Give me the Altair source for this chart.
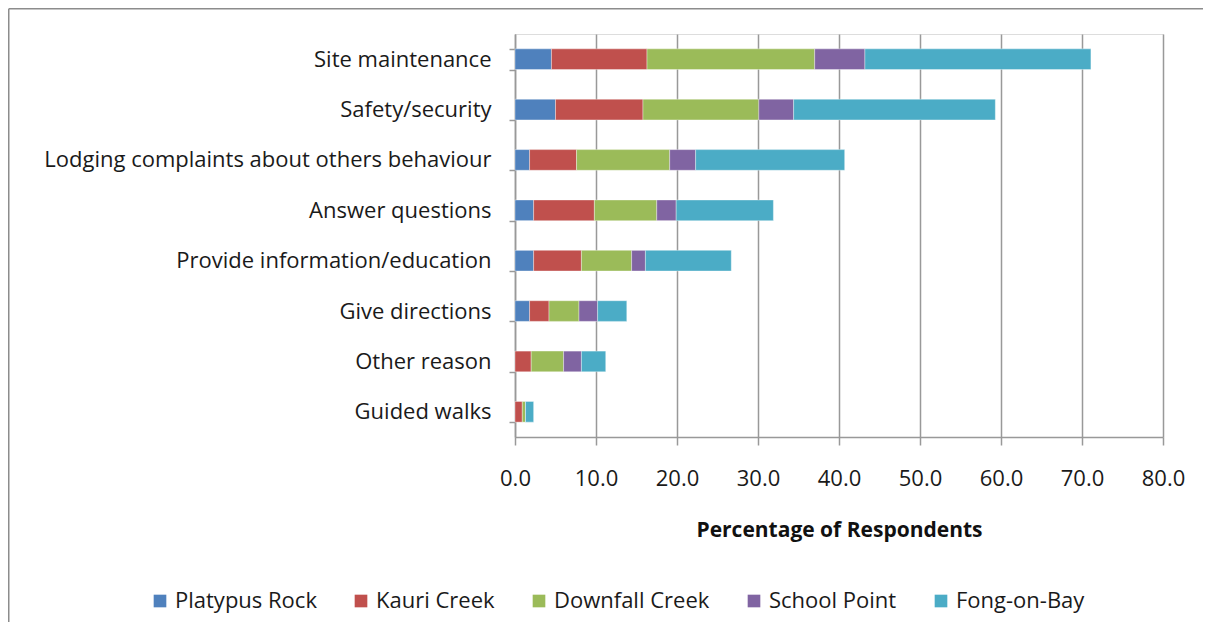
import altair as alt
import pandas as pd

categories = ["Site maintenance", "Safety/security", "Lodging complaints about others behaviour",
              "Answer questions", "Provide information/education", "Give directions",
              "Other reason", "Guided walks"]
sites = ["Platypus Rock", "Kauri Creek", "Downfall Creek", "School Point", "Fong-on-Bay"]
colors = ["#4F81BD", "#C0504D", "#9BBB59", "#8064A2", "#4BACC6"]

platypus_rock = [4.5, 5.0, 1.8, 2.3, 2.3, 1.8, 0.0, 0.0]
kauri_creek = [11.8, 10.8, 5.8, 7.5, 5.9, 2.4, 2.0, 0.9]
downfall_creek = [20.7, 14.3, 11.5, 7.7, 6.2, 3.7, 4.0, 0.4]
school_point = [6.2, 4.3, 3.2, 2.4, 1.7, 2.3, 2.2, 0.0]
fong_on_bay = [27.9, 24.9, 18.4, 12.0, 10.6, 3.6, 3.0, 1.0]

series = [platypus_rock, kauri_creek, downfall_creek, school_point, fong_on_bay]
rows = []
for si, (site, vals) in enumerate(zip(sites, series)):
    for cat, v in zip(categories, vals):
        rows.append({"Reason": cat, "Site": site, "Value": v, "Order": si})
df = pd.DataFrame(rows)

FONT = "Open Sans"
W, H = 648, 403
PL, PT, PR, PB = 507, 26, 40, 185

bars = alt.Chart(df).mark_bar(stroke="white", strokeWidth=0.6, strokeOpacity=0.6).encode(
    y=alt.Y("Reason:N", sort=categories,
            scale=alt.Scale(paddingInner=0.59, paddingOuter=0.295),
            axis=alt.Axis(title=None, labelFontSize=22, labelFont=FONT, labelColor="#1a1a1a",
                          tickBand="extent", tickSize=6, tickColor="#999999", tickWidth=1.5,
                          domainColor="#999999", domainWidth=1.5, labelPadding=18,
                          labelLimit=600, grid=False)),
    x=alt.X("Value:Q", stack="zero",
            scale=alt.Scale(domain=[0, 80], nice=False),
            axis=alt.Axis(title="Percentage of Respondents", values=list(range(0, 81, 10)),
                          format=".1f", labelFontSize=22, labelFont=FONT, labelColor="#1a1a1a",
                          labelFlush=False,
                          titleFontSize=21, titleFont=FONT, titleFontWeight="bold",
                          titleColor="#111111", titlePadding=30,
                          tickSize=8, tickColor="#999999", tickWidth=1.5,
                          domainColor="#999999", domainWidth=1.5, labelPadding=23,
                          grid=True, gridColor="#999999", gridWidth=1.5)),
    color=alt.Color("Site:N", sort=sites,
                    scale=alt.Scale(domain=sites, range=colors),
                    legend=alt.Legend(title=None, orient="none", legendX=-366, legendY=556,
                                      direction="horizontal", columns=5,
                                      symbolType="square", symbolSize=160,
                                      symbolStrokeWidth=0, labelFontSize=22, labelFont=FONT,
                                      labelColor="#1a1a1a", columnPadding=33, labelOffset=4,
                                      labelLimit=300)),
    order=alt.Order("Order:Q", sort="ascending"),
)

frame_src = pd.DataFrame({"a": [0]})
frame_top = alt.Chart(frame_src).mark_rule(color="#8c8c8c", strokeWidth=1.5).encode(
    x=alt.value(-PL + 0.75), x2=alt.value(W + PR), y=alt.value(-PT + 0.75),
)
frame_left = alt.Chart(frame_src).mark_rule(color="#8c8c8c", strokeWidth=1.5).encode(
    x=alt.value(-PL + 0.75), y=alt.value(-PT + 0.75), y2=alt.value(H + PB),
)

chart = alt.layer(frame_top, frame_left, bars).properties(
    width=W, height=H,
    autosize=alt.AutoSizeParams(type="none"),
    padding={"left": PL, "top": PT, "right": PR, "bottom": PB},
).configure_view(stroke=None).configure(background="white")

chart.save("out.html", embed_options={"renderer": "svg", "actions": False})
